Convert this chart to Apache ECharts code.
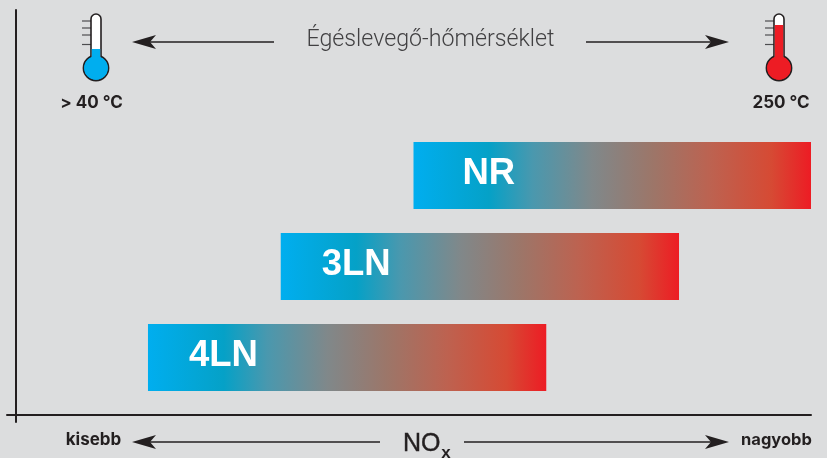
<!DOCTYPE html>
<html><head><meta charset="utf-8">
<style>html,body{margin:0;padding:0;background:#dcddde}#c{width:827px;height:458px}</style>
<script src="https://cdn.jsdelivr.net/npm/echarts@6/dist/echarts.min.js"></script>
</head><body><div id="c"></div>
<script>
const categories = ['4LN', '3LN', 'NR'];
const rangeStart = [16.6, 33.3, 50];
const rangeEnd = [66.7, 83.4, 100];
const titleText = 'Égéslevegő-hőmérséklet';
const tempLow = '> 40 °C';
const tempHigh = '250 °C';
const lowLabel = 'kisebb';
const highLabel = 'nagyobb';

const INK = '#231f20';
const BLUE = '#00aeef';
const RED = '#ed1c24';
const labelDistance = [41, 41, 49];

function arrow(x1, x2, y) {
  const d = x2 > x1 ? 1 : -1;
  return [
    { type: 'line', shape: { x1: x1, y1: y, x2: x2 - d * 10, y2: y }, style: { stroke: INK, lineWidth: 1.5 } },
    { type: 'polygon', shape: { points: [[x2, y], [x2 - d * 24, y - 7], [x2 - d * 18, y], [x2 - d * 24, y + 7]] }, style: { fill: INK } }
  ];
}
function thermometer(x, fillTop, color) {
  const out = [];
  [21, 28, 35, 44.5].forEach(y => out.push({ type: 'line', shape: { x1: x - 14, y1: y, x2: x - 5, y2: y }, style: { stroke: '#4d4d4f', lineWidth: 1.2 } }));
  out.push({ type: 'circle', shape: { cx: x, cy: 68, r: 12.6 }, style: { fill: color, stroke: INK, lineWidth: 1.6 } });
  out.push({ type: 'rect', shape: { x: x - 5, y: 14, width: 10, height: 46, r: [5, 5, 0, 0] }, style: { fill: '#fff', stroke: INK, lineWidth: 1.6 } });
  out.push({ type: 'rect', shape: { x: x - 4.2, y: fillTop, width: 8.4, height: 68 - fillTop }, style: { fill: color } });
  out.push({ type: 'circle', shape: { cx: x, cy: 68, r: 11.8 }, style: { fill: color } });
  return out;
}
const text = (x, y, t, size, weight, align, color, family, extra) => ({
  type: 'text', x: x, y: y,
  style: Object.assign({ text: t, fontSize: size, fontWeight: weight, fontFamily: family || 'Liberation Sans', fill: color || INK, align: align || 'center', verticalAlign: 'middle' }, extra || {})
});

const option = {
  backgroundColor: '#dcddde',
  animation: false,
  grid: [
    { left: 7, right: 16, top: 10, bottom: 36 },
    { left: 16, right: 16, top: 130, height: 273 }
  ],
  xAxis: [
    { gridIndex: 0, type: 'value', min: -1.132, max: 100, axisLine: { show: true, onZero: true, lineStyle: { color: INK, width: 2 } }, axisTick: { show: false }, axisLabel: { show: false }, splitLine: { show: false } },
    { gridIndex: 1, type: 'value', min: 0, max: 100, show: false }
  ],
  yAxis: [
    { gridIndex: 0, type: 'value', min: -7, max: 405, axisLine: { show: true, onZero: true, lineStyle: { color: INK, width: 2 } }, axisTick: { show: false }, axisLabel: { show: false }, splitLine: { show: false } },
    { gridIndex: 1, type: 'category', data: categories, show: false }
  ],
  series: [
    { type: 'bar', xAxisIndex: 1, yAxisIndex: 1, stack: 'r', barWidth: 67, silent: true, itemStyle: { color: 'transparent' }, data: rangeStart },
    { type: 'bar', xAxisIndex: 1, yAxisIndex: 1, stack: 'r', barWidth: 67, silent: true,
      itemStyle: { color: { type: 'linear', x: 0, y: 0, x2: 1, y2: 0, colorStops: [
        { offset: 0, color: BLUE }, { offset: 0.19, color: '#05a1c7' }, { offset: 0.3, color: '#4a98ae' }, { offset: 0.45, color: '#80888a' }, { offset: 0.6, color: '#9c7669' }, { offset: 0.75, color: '#bd6250' }, { offset: 0.9, color: '#d64a34' }, { offset: 1, color: RED } ] } },
      data: categories.map((c, i) => ({ value: rangeEnd[i] - rangeStart[i],
        label: { show: true, position: 'insideLeft', distance: labelDistance[i], offset: [0, -2], formatter: c, color: '#fff', fontSize: 36.5, fontWeight: 'bold', fontFamily: 'Liberation Sans' } })) }
  ],
  graphic: [
    ...arrow(274, 132, 42), ...arrow(586, 729, 42),
    ...arrow(380, 132, 442), ...arrow(464, 729, 442),
    ...thermometer(96, 49, BLUE), ...thermometer(779, 25, RED),
    text(430.5, 40, titleText, 23.2, 300, 'center', '#414042', 'Roboto'),
    text(91.5, 102.5, tempLow, 17, 700, 'center', INK, 'Inter'), text(781, 102.5, tempHigh, 17, 700, 'center', INK, 'Inter'),
    text(93.5, 440, lowLabel, 17, 700, 'center', INK, 'Inter'), text(776.5, 440, highLabel, 16.5, 700, 'center', INK, 'Inter'),
    text(403, 444, 'NO', 25, 'normal', 'left', INK, null, { stroke: INK, lineWidth: 0.4 }),
    text(446, 453, 'x', 17, 'bold')
  ]
};
echarts.init(document.getElementById('c'), null, { renderer: 'canvas' }).setOption(option);
</script></body></html>
